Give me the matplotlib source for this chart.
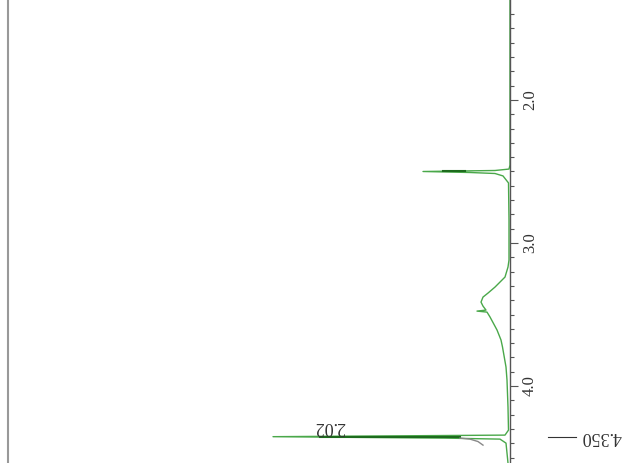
import matplotlib
matplotlib.use("Agg")
import matplotlib.pyplot as plt
from matplotlib.ticker import MultipleLocator, FixedLocator

plt.rcParams["font.family"] = ["Liberation Serif", "DejaVu Serif"]

# spectrum trace (chemical shift in ppm, intensity in arbitrary units)
ppm = [1.30, 2.455, 2.483, 2.493, 2.500, 2.507, 2.514, 2.531, 2.580, 2.839,
       3.119, 3.168, 3.238, 3.308, 3.350, 3.378, 3.413, 3.441, 3.469, 3.476,
       3.483, 3.517, 3.608, 3.678, 3.727, 3.867, 3.958, 4.147, 4.308, 4.343,
       4.354, 4.364, 4.371, 4.399, 4.538]
intensity = [0, 0, 1, 15, 87, 40, 15, 7, 1.5, 1,
             1, 2, 5, 15, 22, 27, 29, 27, 24, 33,
             23, 20, 13, 9, 7.5, 4, 3, 2, 1.5, 5,
             237, 65, 10, 4, 2]

# integral segments (ppm, start, end)
integ_ppm = [2.500, 4.356]
integ_start = [67, 190]
integ_end = [45, 50]

# integral curve of the big peak
curve_ppm = [4.364, 4.371, 4.388, 4.413]
curve_int = [50, 40, 32, 27]

integral_value = "2.02"
peak_label = "4.350"
peak_ppm = 4.355

major_ticks = [2.0, 3.0, 4.0]
tick_labels = ["2.0", "3.0", "4.0"]

fig = plt.figure(figsize=(6.44, 4.63), dpi=100)
ax = fig.add_axes([0, 0, 1, 1])

ax.plot(intensity, ppm, color="#4aa84a", lw=1.0)
for p, a, b in zip(integ_ppm, integ_start, integ_end):
    ax.plot([a, b], [p, p], color="#1d6b1d", lw=1.5)
ax.plot(curve_int, curve_ppm, color="#888888", lw=1.0)

ax.set_xlim(510, -134)
ax.set_ylim(4.538, 1.301)

# left frame line
ax.axvline(502, color="#999999", lw=1.5)

for s in ["left", "top", "bottom"]:
    ax.spines[s].set_visible(False)
ax.spines["right"].set_position(("data", 0))
ax.spines["right"].set_color("#555555")
ax.spines["right"].set_linewidth(1.0)
ax.xaxis.set_visible(False)
ax.yaxis.tick_right()
ax.yaxis.set_major_locator(FixedLocator(major_ticks))
ax.set_yticklabels(tick_labels)
ax.yaxis.set_minor_locator(MultipleLocator(0.1))
ax.tick_params(axis="y", which="major", direction="out", length=5.5,
               width=0.8, color="#555555", pad=3, labelsize=12,
               labelrotation=90)
ax.tick_params(axis="y", which="minor", direction="out", length=2.8,
               width=0.8, color="#555555")
for lab in ax.get_yticklabels():
    lab.set_va("center")
    lab.set_color("#333333")

ax.text(180, 4.285, integral_value, rotation=180, ha="center", va="center",
        fontsize=13, color="#333333")
ax.plot([-38, -66], [peak_ppm, peak_ppm], color="#333333", lw=0.8)
ax.text(-91, 4.35, peak_label, rotation=180, ha="center", va="center",
        fontsize=13, color="#333333")

fig.savefig("out.png", dpi=100)
